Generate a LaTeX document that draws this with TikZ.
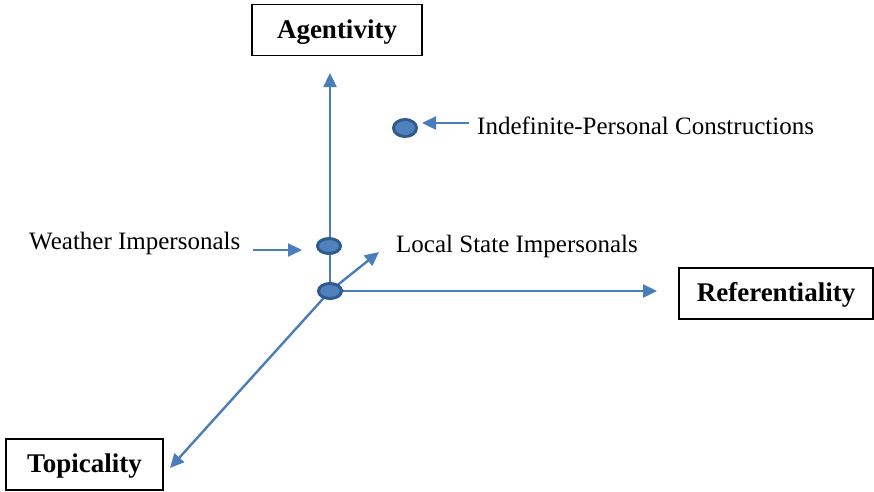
\documentclass[tikz,border=0pt]{standalone}
\usepackage{fontspec}
\setmainfont{Liberation Serif}
\usetikzlibrary{arrows.meta,shapes.geometric}
\definecolor{axisblue}{HTML}{4A7EBB}
\definecolor{dotfill}{HTML}{4F81BD}
\definecolor{dotline}{HTML}{2F5B8F}
\begin{document}
\begin{tikzpicture}[x=1pt,y=-1pt,
  axis/.style={draw=axisblue,line width=2.4pt,-{Triangle[length=14pt,width=13pt]}},
  dimbox/.style={draw=black,line width=1.8pt,minimum height=51pt,inner sep=0pt,text height=20pt,text depth=4pt,font=\fontsize{27}{32}\selectfont\bfseries},
  lbl/.style={inner sep=0pt,anchor=west,font=\fontsize{25}{30}\selectfont},
  pt/.style={ellipse,draw=dotline,fill=dotfill,line width=3pt,minimum width=23pt,minimum height=15pt,inner sep=0pt}
]
\useasboundingbox (0,0) rectangle (874,491);
% boxes
\node[dimbox,minimum width=170pt] (ag) at (337,30) {Agentivity};
\node[dimbox,minimum width=194pt] (ref) at (776,293.5) {Referentiality};
\node[dimbox,minimum width=157pt] (top) at (84.5,464.5) {Topicality};
% free ends
\coordinate (agtip) at (330,73);
\coordinate (reftip) at (657,291);
\coordinate (toptip) at (170,468);
\coordinate (lstip) at (379,252);
\coordinate (wtail) at (253,250);
\coordinate (wtip) at (302,250);
\coordinate (itail) at (469,123);
\coordinate (itip) at (422,123);
% axes (draw before dots)
\coordinate (o) at (330,291);
\draw[axis] (o) -- (agtip);
\draw[axis] (o) -- (reftip);
\draw[axis] (o) -- (toptip);
\draw[axis] (o) -- (lstip);
% dots
\node[pt] (origin) at (o) {};
\node[pt] (weather) at (329,246) {};
\node[pt,minimum height=17pt] (indef) at (405,128) {};
% labels
\node[lbl] (wl) at (29,243) {Weather Impersonals};
\node[lbl] (ll) at (396,246) {Local State Impersonals};
\node[lbl] (il) at (477,126) {Indefinite-Personal Constructions};
% small arrows
\draw[axis] (wtail) -- (wtip);
\draw[axis] (itail) -- (itip);
\end{tikzpicture}
\end{document}
